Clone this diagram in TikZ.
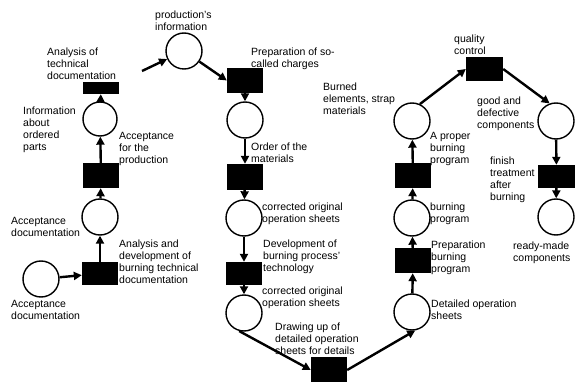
\documentclass[tikz,border=0pt]{standalone}
\usepackage{fontspec}
\setmainfont{Liberation Sans}
\usetikzlibrary{arrows.meta}
\begin{document}
\begin{tikzpicture}[x=1pt,y=-1pt,
  place/.style={circle,draw,line width=1.4pt,minimum size=36pt,inner sep=0pt},
  trans/.style={rectangle,fill=black,minimum width=36pt,minimum height=24pt,inner sep=0pt},
  flow/.style={line width=2.4pt,-{Triangle[length=8pt,width=8pt]}},
  lab/.style={anchor=north west,inner sep=0pt,align=left,font=\fontsize{10.5}{11.8}\selectfont}]
\useasboundingbox (0,0) rectangle (575,382);
% left column
\node[place] (pInit) at (41,279) {};
\node[trans,minimum height=23pt] (tAD) at (100,273.5) {};
\node[place] (pAccDoc) at (100,217) {};
\node[trans,minimum height=25pt] (tAccProd) at (101,175.5) {};
\node[place,minimum size=34pt] (pInfo) at (100,119) {};
\node[trans,minimum height=12pt] (tAnalysis) at (101,88) {};
\coordinate (free) at (142,71);
% middle column
\node[place] (pProdInfo) at (184,51) {};
\node[trans,minimum height=25pt] (tPrep) at (245,80.5) {};
\node[place] (pOrder) at (245,120) {};
\node[trans,minimum height=26pt] (tOrder) at (245,177) {};
\node[place] (pCorrA) at (244,218) {};
\node[trans,minimum height=23pt] (tDev) at (244,273.5) {};
\node[place] (pCorrB) at (244,313) {};
\node[trans,minimum height=26pt] (tDraw) at (329,370) {};
% right column
\node[place] (pDetailed) at (412,312) {};
\node[trans,minimum height=25pt] (tPrepBurn) at (413,260.5) {};
\node[place] (pBurnProg) at (412,218) {};
\node[trans,minimum height=25pt] (tProper) at (413,175.5) {};
\node[place] (pBurned) at (412,121) {};
\node[trans,minimum width=37pt] (tQC) at (484.5,69) {};
\node[place] (pGood) at (556,121) {};
\node[trans,minimum width=37pt,minimum height=23pt] (tFinish) at (556.5,176.5) {};
\node[place] (pReady) at (556,217) {};
% arcs
\draw[flow] (pInit) -- (tAD);
\draw[flow] (tAD) -- (pAccDoc);
\draw[flow] (pAccDoc) -- (tAccProd);
\draw[flow] (tAccProd) -- (pInfo);
\draw[flow] (pInfo) -- (tAnalysis);
\draw[flow] (free) -- (pProdInfo);
\draw[flow] (pProdInfo) -- (tPrep.west);
\draw[flow] (tPrep) -- (pOrder);
\draw[flow] (pOrder) -- (tOrder);
\draw[flow] (tOrder) -- (pCorrA);
\draw[flow] (pCorrA) -- (tDev);
\draw[flow] (tDev) -- (pCorrB);
\draw[flow] (pCorrB.-105) -- (tDraw.west);
\draw[flow] (tDraw.east) -- (pDetailed.-80);
\draw[flow] (pDetailed) -- (tPrepBurn);
\draw[flow] (tPrepBurn) -- (pBurnProg);
\draw[flow] (pBurnProg) -- (tProper);
\draw[flow] (tProper) -- (pBurned);
\draw[flow] (pBurned.65) -- (tQC.west);
\draw[flow] (tQC.east) -- (pGood.110);
\draw[flow] (pGood) -- (tFinish);
\draw[flow] (tFinish) -- (pReady);
% labels
\node[lab] (lProdInfo) at (155,11) {production's\\information};
\node[lab] (lAnalysis) at (47,48) {Analysis of\\technical\\documentation};
\node[lab] (lInfo) at (23,107) {Information\\about\\ordered\\parts};
\node[lab] (lAccProd) at (119,132) {Acceptance\\for the\\production};
\node[lab] (lAccDocA) at (11,217) {Acceptance\\documentation};
\node[lab] (lAD) at (119,240) {Analysis and\\development of\\burning technical\\documentation};
\node[lab] (lAccDocB) at (11,300) {Acceptance\\documentation};
\node[lab] (lPrep) at (251,48) {Preparation of so-\\called charges};
\node[lab] (lOrder) at (251,143) {Order of the\\materials};
\node[lab] (lCorrA) at (262,203) {corrected original\\operation sheets};
\node[lab] (lDev) at (263,240) {Development of\\burning process'\\technology};
\node[lab] (lCorrB) at (262,287) {corrected original\\operation sheets};
\node[lab] (lDraw) at (275,323) {Drawing up of\\detailed operation\\sheets for details};
\node[lab] (lBurned) at (323,83) {Burned\\elements, strap\\materials};
\node[lab] (lProper) at (430,132) {A proper\\burning\\program};
\node[lab] (lQC) at (454,35) {quality\\control};
\node[lab] (lGood) at (477,97) {good and\\defective\\components};
\node[lab] (lFinish) at (490,157) {finish\\treatment\\after\\burning};
\node[lab] (lBurnProg) at (430,203) {burning\\program};
\node[lab] (lPrepBurn) at (431,241) {Preparation\\burning\\program};
\node[lab] (lDetailed) at (431,300) {Detailed operation\\sheets};
\node[lab] (lReady) at (513,242) {ready-made\\components};
\end{tikzpicture}
\end{document}
